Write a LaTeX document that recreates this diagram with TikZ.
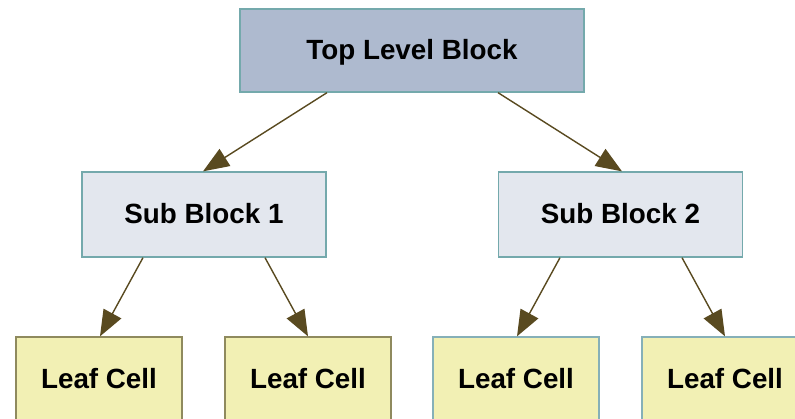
\documentclass[tikz,border=0pt]{standalone}
\usepackage{fontspec}
\setmainfont{Liberation Sans}
\usetikzlibrary{arrows.meta}
\definecolor{topfill}{HTML}{AEBACF}
\definecolor{subfill}{HTML}{E3E7EE}
\definecolor{leaffill}{HTML}{F2F0B4}
\definecolor{tealline}{HTML}{74A9AC}
\definecolor{oliveline}{HTML}{8F8A5E}
\definecolor{leafteal}{HTML}{86B0B8}
\definecolor{arrowc}{HTML}{594A20}
\tikzset{
  blockbox/.style={draw, rectangle, line width=1.3pt, inner sep=0pt,
    text height=20pt, text depth=3pt,
    font=\fontsize{27.8}{30}\selectfont\bfseries, text=black},
  topbox/.style={blockbox, fill=topfill, draw=tealline, minimum width=344pt, minimum height=83pt},
  subbox/.style={blockbox, fill=subfill, draw=tealline, minimum width=244pt, minimum height=85pt},
  leafbox/.style={blockbox, fill=leaffill, minimum width=166pt, minimum height=85pt},
  arr/.style={draw=arrowc, line width=1.4pt, -{Triangle[length=26pt,width=20pt,fill=arrowc]}}
}
\begin{document}
\begin{tikzpicture}[x=1pt,y=-1pt]
\useasboundingbox (0,0) rectangle (795,418);
\node[topbox] (top) at (412,50.5) {Top Level Block};
\node[subbox] (sub1) at (204,214.5) {Sub Block 1};
\node[subbox] (sub2) at (620.5,214.5) {Sub Block 2};
\node[leafbox, draw=oliveline] (leaf1) at (99,379.5) {Leaf Cell};
\node[leafbox, draw=oliveline] (leaf2) at (308,379.5) {Leaf Cell};
\node[leafbox, draw=leafteal] (leaf3) at (516,379.5) {Leaf Cell};
\node[leafbox, draw=leafteal] (leaf4) at (725,379.5) {Leaf Cell};
\draw[arr] ([xshift=-85pt]top.south) -- ([xshift=-1pt]sub1.north);
\draw[arr] ([xshift=86pt]top.south) -- ([xshift=1.5pt]sub2.north);
\draw[arr] ([xshift=-61pt]sub1.south) -- ([xshift=1pt]leaf1.north);
\draw[arr] ([xshift=61pt]sub1.south) -- (leaf2.north);
\draw[arr] ([xshift=-60.5pt]sub2.south) -- ([xshift=1pt]leaf3.north);
\draw[arr] ([xshift=61.5pt]sub2.south) -- (leaf4.north);
\end{tikzpicture}
\end{document}
